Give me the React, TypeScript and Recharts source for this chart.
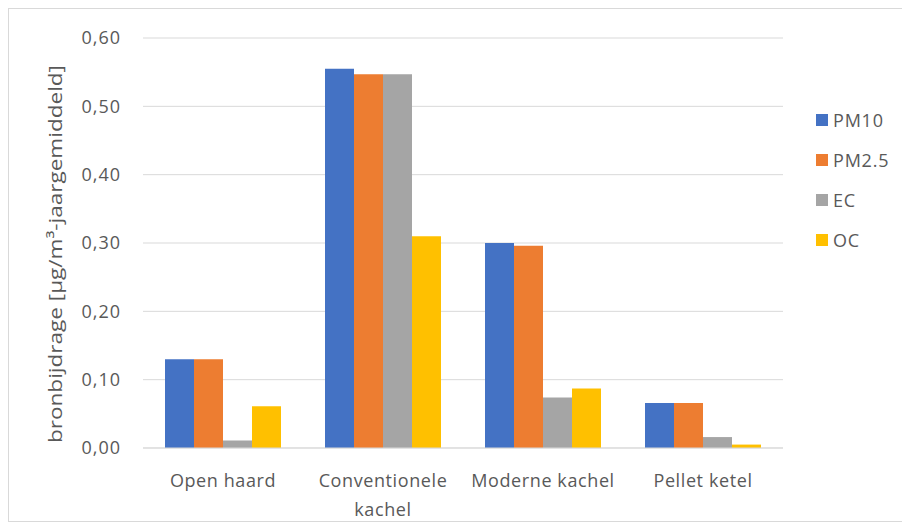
import React from "react";
import { BarChart, Bar, XAxis, YAxis, CartesianGrid } from "recharts";

const categories = ["Open haard", "Conventionele kachel", "Moderne kachel", "Pellet ketel"];
const pm10 = [0.13, 0.555, 0.3, 0.066];
const pm25 = [0.13, 0.547, 0.296, 0.066];
const ec = [0.011, 0.547, 0.074, 0.016];
const oc = [0.061, 0.31, 0.087, 0.005];
const yTicks = [0, 0.1, 0.2, 0.3, 0.4, 0.5, 0.6];

const series = [
  { key: "PM10", color: "#4472C4", values: pm10 },
  { key: "PM2.5", color: "#ED7D31", values: pm25 },
  { key: "EC", color: "#A5A5A5", values: ec },
  { key: "OC", color: "#FFC000", values: oc },
];

const data = categories.map((name, i) => {
  const row: Record<string, any> = { name };
  series.forEach((s) => (row[s.key] = s.values[i]));
  return row;
});

const FONT = "'Open Sans', 'Noto Sans', sans-serif";
const TEXT_COLOR = "#595959";

// long labels break at the last space, like excel does in a narrow band
const wrapLabel = (label: string) => {
  if (label.length <= 15) return [label];
  const i = label.lastIndexOf(" ");
  return [label.slice(0, i), label.slice(i + 1)];
};

const CategoryTick = (props: any) => {
  const { x, y, payload } = props;
  const lines = wrapLabel(payload.value);
  return (
    <text
      x={x}
      y={y + 16}
      textAnchor="middle"
      dominantBaseline="hanging"
      fontSize={18}
      fill={TEXT_COLOR}
      fontFamily={FONT}
      style={{ letterSpacing: 0.6 }}
    >
      {lines.map((l, i) => (
        <tspan key={i} x={x} dy={i === 0 ? 0 : 29}>
          {l}
        </tspan>
      ))}
    </text>
  );
};

const renderYLabel = (props: any) => {
  const { viewBox } = props;
  const cx = viewBox.x + 26;
  const cy = viewBox.y + viewBox.height / 2 + 11;
  return (
    <text
      x={cx}
      y={cy}
      transform={`rotate(-90, ${cx}, ${cy})`}
      textAnchor="middle"
      dominantBaseline="central"
      fontSize={19}
      fill={TEXT_COLOR}
      fontFamily={FONT}
      textLength={378}
      lengthAdjust="spacingAndGlyphs"
    >
      bronbijdrage [µg/m³-jaargemiddeld]
    </text>
  );
};

export default function App() {
  return (
    <div style={{ width: 900, height: 512, border: "1px solid #d9d9d9", position: "relative", background: "#fff" }}>
      <BarChart
        width={900}
        height={512}
        data={data}
        margin={{ top: 29, right: 126, bottom: 13, left: 20 }}
        barGap={0}
        barSize={29}
      >
        <CartesianGrid vertical={false} stroke="#d9d9d9" />
        <XAxis
          dataKey="name"
          axisLine={{ stroke: "#d9d9d9" }}
          tickLine={false}
          tick={<CategoryTick />}
          interval={0}
          height={60}
        />
        <YAxis
          width={114}
          domain={[0, 0.6]}
          ticks={yTicks}
          axisLine={false}
          tickLine={false}
          tickMargin={16}
          tickFormatter={(v: number) => v.toFixed(2).replace(".", ",")}
          tick={{ fontSize: 18, fill: TEXT_COLOR, fontFamily: FONT, style: { letterSpacing: 1 } }}
          label={renderYLabel}
        />
        {series.map((s) => (
          <Bar key={s.key} dataKey={s.key} fill={s.color} isAnimationActive={false} />
        ))}
      </BarChart>
      <div
        style={{
          position: "absolute",
          left: 807,
          top: 91,
          fontFamily: FONT,
          fontSize: 18,
          color: TEXT_COLOR,
          letterSpacing: 0.8,
        }}
      >
        {series.map((s) => (
          <div key={s.key} style={{ display: "flex", alignItems: "center", height: 40 }}>
            <span style={{ width: 12, height: 12, background: s.color, marginRight: 5 }} />
            {s.key}
          </div>
        ))}
      </div>
    </div>
  );
}
